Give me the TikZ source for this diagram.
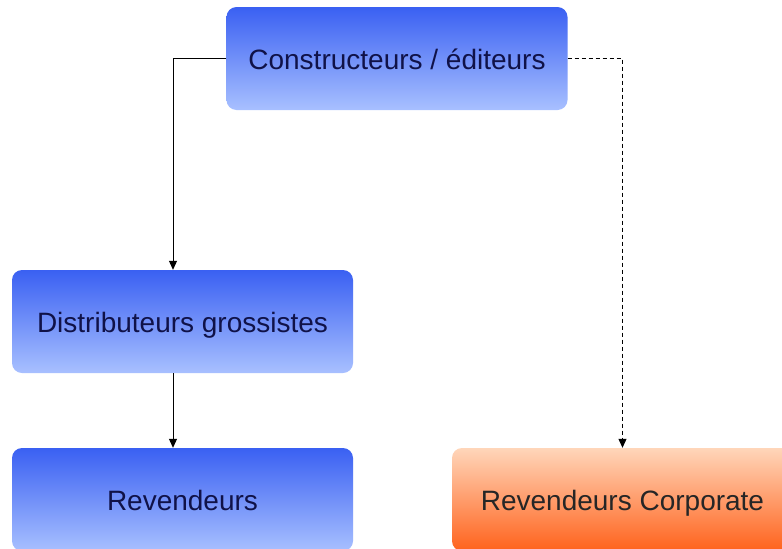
\documentclass[tikz,border=0pt]{standalone}
\usepackage{fontspec}
\setmainfont{Liberation Sans}
\usetikzlibrary{arrows.meta,calc}
\definecolor{bluetop}{RGB}{58,96,242}
\definecolor{bluebot}{RGB}{168,192,255}
\definecolor{orangetop}{RGB}{255,214,186}
\definecolor{orangebot}{RGB}{255,98,28}
\definecolor{txtblue}{RGB}{16,18,72}
\tikzset{
  bluebox/.style={rectangle, rounded corners=10pt, minimum width=341pt, minimum height=103pt,
    top color=bluetop, bottom color=bluebot, draw=none, text=txtblue,
    font=\fontsize{28}{32}\selectfont, inner sep=0pt, text height=22pt, text depth=0pt},
  orangebox/.style={bluebox, top color=orangetop, bottom color=orangebot, text=black!85},
  link/.style={line width=1pt, draw=black, -{Triangle[length=9pt,width=8pt]}},
  dlink/.style={link, dash pattern=on 4pt off 3pt}
}
\begin{document}
\begin{tikzpicture}[x=1pt,y=-1pt]
\useasboundingbox (0,0) rectangle (782,549);
\clip (0,0) rectangle (782,549);
\fill[white] (0,0) rectangle (782,549);
\node[bluebox] (top) at (397,58.5) {Constructeurs / éditeurs};
\node[bluebox] (dist) at (182.5,321.5) {Distributeurs grossistes};
\node[bluebox] (rev) at (182.5,499.5) {Revendeurs};
\node[orangebox] (corp) at (622.5,499.5) {Revendeurs Corporate};
\draw[link] (top.west) -| ([xshift=-9.5pt]dist.north);
\draw[link] ([xshift=-9.5pt]dist.south) -- ([xshift=-9.5pt]rev.north);
\draw[dlink] (top.east) -| (corp.north);
\end{tikzpicture}
\end{document}
